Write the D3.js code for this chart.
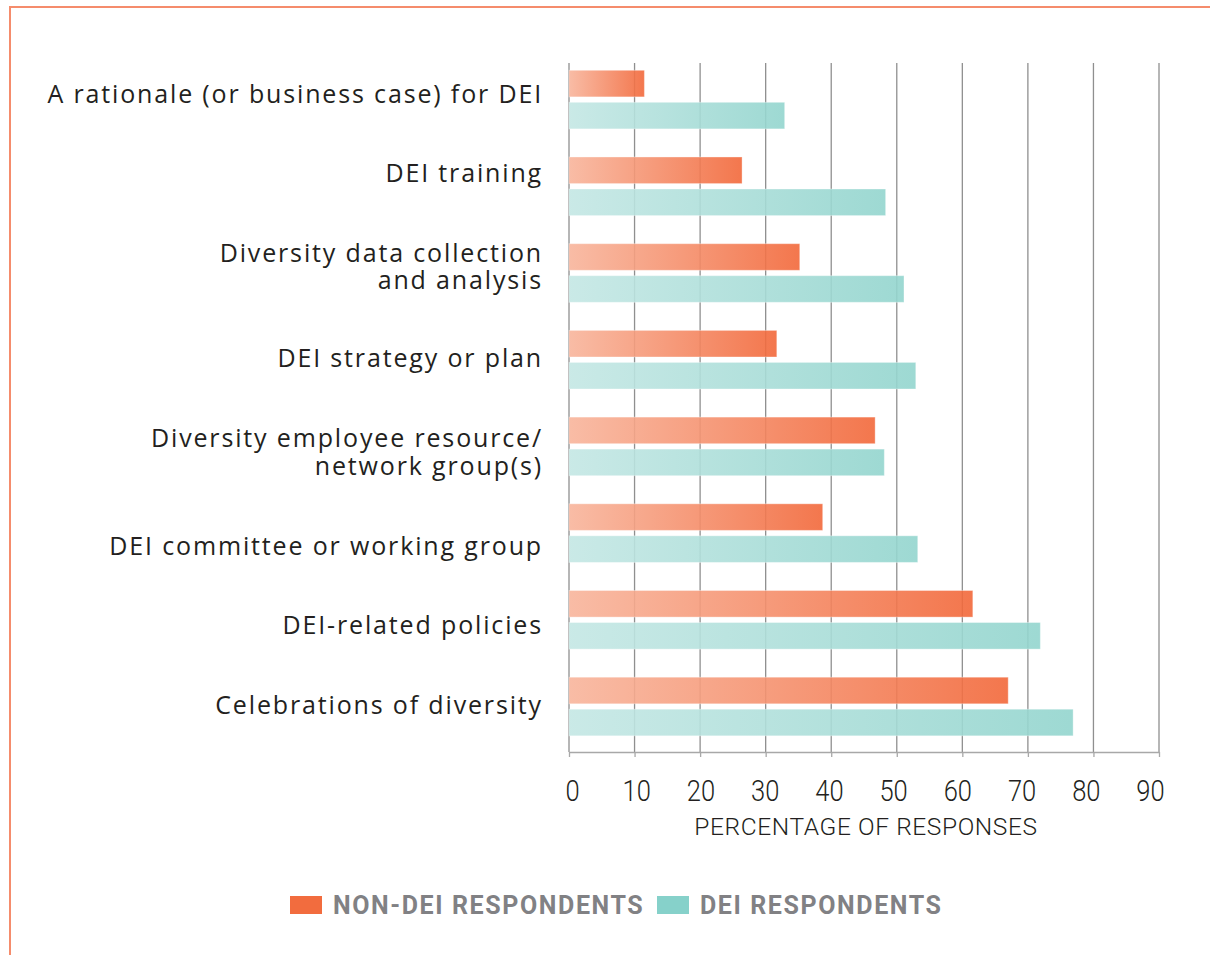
<!DOCTYPE html>
<html>
<head>
<meta charset="utf-8">
<script src="https://cdn.jsdelivr.net/npm/d3@7/dist/d3.min.js"></script>
<style>
  html, body { margin: 0; padding: 0; background: #fff; }
  svg { display: block; }
</style>
</head>
<body>
<svg id="chart" width="1210" height="955"></svg>
<script>
// Survey items (each label may wrap onto two lines)
const categories = [
  ["A rationale (or business case) for DEI"],
  ["DEI training"],
  ["Diversity data collection", "and analysis"],
  ["DEI strategy or plan"],
  ["Diversity employee resource/", "network group(s)"],
  ["DEI committee or working group"],
  ["DEI-related policies"],
  ["Celebrations of diversity"]
];
const nonDeiValues = [11.5, 26.4, 35.2, 31.7, 46.7, 38.7, 61.6, 67.0];
const deiValues    = [32.9, 48.3, 51.1, 52.9, 48.1, 53.2, 71.9, 76.9];
const tickValues   = [0, 10, 20, 30, 40, 50, 60, 70, 80, 90];
const seriesNames  = ["NON-DEI RESPONDENTS", "DEI RESPONDENTS"];
const axisTitle    = "PERCENTAGE OF RESPONSES";

// Hand-set vertical nudges for the category labels (px)
const labelNudge = [1, -7, 0, 5, 12, 19, 12, 5];

const svg = d3.select("#chart");

const keys = categories.map(c => c.join(" "));
const rows = keys.map((k, i) => ({ key: k, lines: categories[i], nudge: labelNudge[i], vals: [nonDeiValues[i], deiValues[i]] }));

const x = d3.scaleLinear().domain([0, 90]).range([569, 1159]);
// tick numbers sit on a slightly tighter spread than the gridlines
const xLabel = d3.scaleLinear().domain([0, 90]).range([572, 1150]);
const y = d3.scaleBand().domain(keys).range([63, 743.1]).paddingInner(0.324).paddingOuter(0.084);
const ySub = d3.scaleBand().domain([0, 1]).range([0, y.bandwidth()]).paddingInner(0.169);
const axisY = 752;

// Frame lines on top and left
svg.append("line").attr("x1", 10).attr("x2", 1210).attr("y1", 7).attr("y2", 7)
  .attr("stroke", "#f58c6c").attr("stroke-width", 2);
svg.append("line").attr("x1", 10).attr("x2", 10).attr("y1", 6).attr("y2", 955)
  .attr("stroke", "#f58c6c").attr("stroke-width", 2);

// Gradients running along each bar
const defs = svg.append("defs");
const gradStops = [
  [["0%", "#f8b59c"], ["100%", "#f2683a"]],
  [["0%", "#c4e7e4"], ["100%", "#93d5ce"]]
];
gradStops.forEach((stops, i) => {
  const g = defs.append("linearGradient").attr("id", "grad" + i)
    .attr("x1", "0%").attr("x2", "100%").attr("y1", "0%").attr("y2", "0%");
  stops.forEach(s => g.append("stop").attr("offset", s[0]).attr("stop-color", s[1]));
});

// Vertical gridlines
svg.append("g").selectAll("line").data(tickValues).join("line")
  .attr("x1", d => x(d)).attr("x2", d => x(d))
  .attr("y1", 63).attr("y2", axisY)
  .attr("stroke", "#8f8f8f").attr("stroke-width", 1.3);

// Bars
const groups = svg.append("g").selectAll("g").data(rows).join("g")
  .attr("transform", d => `translate(0,${y(d.key)})`);
groups.selectAll("rect").data(d => d.vals.map((v, i) => ({ v, i }))).join("rect")
  .attr("x", x(0))
  .attr("y", d => ySub(d.i))
  .attr("width", d => x(d.v) - x(0))
  .attr("height", ySub.bandwidth())
  .attr("fill", d => `url(#grad${d.i})`)
  .attr("fill-opacity", 0.9)
  .attr("stroke", "#ffffff").attr("stroke-opacity", 0.35).attr("stroke-width", 1);

// Category labels (one text element per category, lines as tspans)
const labelFont = "'Open Sans', 'DejaVu Sans', sans-serif";
const lineGap = 27.5;
groups.each(function(d) {
  const cy = y.bandwidth() / 2 + 2.5 + d.nudge;
  const n = d.lines.length;
  const t = d3.select(this).append("text")
    .attr("text-anchor", "end")
    .attr("font-family", labelFont)
    .attr("font-size", 25)
    .attr("letter-spacing", 1.85)
    .attr("fill", "#231f20");
  d.lines.forEach((line, j) => {
    t.append("tspan")
      .attr("x", 543)
      .attr("y", cy + (j - (n - 1) / 2) * lineGap)
      .text(line);
  });
});

// X axis
const axis = d3.axisBottom(x).tickValues(tickValues).tickSize(5).tickPadding(23).tickSizeOuter(0);
const ax = svg.append("g").attr("transform", `translate(0,${axisY})`).call(axis);
ax.select(".domain").attr("stroke", "#a8a8a8").attr("stroke-width", 1.3);
ax.selectAll(".tick line").attr("stroke", "#a8a8a8").attr("stroke-width", 1.3);
ax.selectAll(".tick text")
  .attr("transform", d => `translate(${xLabel(d) - x(d)},0) scale(0.88,1)`)
  .attr("font-family", "Roboto, sans-serif")
  .attr("font-weight", 300)
  .attr("font-size", 29)
  .attr("fill", "#231f20");

svg.append("text")
  .attr("x", (x(0) + x(90)) / 2 + 2).attr("y", 835)
  .attr("text-anchor", "middle")
  .attr("font-family", "Roboto, sans-serif")
  .attr("font-weight", 300)
  .attr("font-size", 24.5)
  .attr("letter-spacing", 0.6)
  .attr("fill", "#231f20")
  .text(axisTitle);

// Legend
const legendColors = ["#f26c3e", "#86d1ca"];
const legendX = [290, 657];
seriesNames.forEach((name, i) => {
  svg.append("rect").attr("x", legendX[i]).attr("y", 896).attr("width", 32).attr("height", 18)
    .attr("fill", legendColors[i]);
  svg.append("text").attr("x", legendX[i] + 43).attr("y", 914)
    .attr("font-family", "Roboto, sans-serif")
    .attr("font-weight", 700)
    .attr("font-size", 25)
    .attr("letter-spacing", 1.6)
    .attr("fill", "#818184")
    .text(name);
});
</script>
</body>
</html>
